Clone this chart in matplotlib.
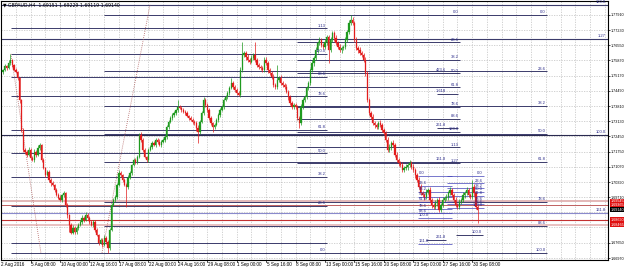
import matplotlib
matplotlib.use("Agg")
import matplotlib.pyplot as plt
import matplotlib.transforms as mtransforms

plt.rcParams['font.family'] = ['Liberation Sans Narrow', 'Liberation Sans', 'DejaVu Sans']

# ---------------- data ----------------
first_bar = 5          # bar index of first candle (0 = 2 Aug 2016 00:00, H4 bars)
open_first = 1.7535
closes = [
 1.7544,1.7562,1.7553,1.7575,1.7589,1.7566,1.7544,1.7535,1.7508,1.7409,
 1.7274,1.7184,1.7175,1.7161,1.7184,1.7148,1.7139,1.7175,1.7161,1.7193,
 1.7206,1.7139,1.7103,1.7071,1.7085,1.7049,1.7035,1.7026,1.7004,1.6981,
 1.6968,1.6959,1.6981,1.6990,1.6936,1.6891,1.6846,1.6811,1.6833,1.6815,
 1.6833,1.6846,1.6860,1.6878,1.6869,1.6891,1.6878,1.6860,1.6846,1.6860,
 1.6824,1.6802,1.6766,1.6779,1.6757,1.6788,1.6770,1.6743,1.6824,1.6936,
 1.6959,1.6972,1.7026,1.7080,1.7071,1.7049,1.7026,1.7017,1.7058,1.7080,
 1.7116,1.7139,1.7130,1.7152,1.7251,1.7229,1.7184,1.7152,1.7139,1.7184,
 1.7197,1.7215,1.7206,1.7229,1.7220,1.7206,1.7220,1.7229,1.7242,1.7287,
 1.7310,1.7328,1.7341,1.7350,1.7364,1.7377,1.7373,1.7364,1.7355,1.7350,
 1.7337,1.7328,1.7319,1.7310,1.7305,1.7283,1.7265,1.7310,1.7350,1.7409,
 1.7386,1.7364,1.7328,1.7305,1.7287,1.7296,1.7319,1.7341,1.7364,1.7377,
 1.7409,1.7422,1.7440,1.7463,1.7485,1.7467,1.7454,1.7440,1.7431,1.7544,
 1.7611,1.7620,1.7602,1.7589,1.7580,1.7598,1.7611,1.7589,1.7566,1.7557,
 1.7553,1.7544,1.7589,1.7575,1.7544,1.7530,1.7512,1.7476,1.7467,1.7499,
 1.7508,1.7485,1.7476,1.7467,1.7445,1.7422,1.7395,1.7377,1.7386,1.7377,
 1.7328,1.7305,1.7377,1.7409,1.7422,1.7463,1.7485,1.7544,1.7575,1.7598,
 1.7634,1.7666,1.7679,1.7657,1.7648,1.7670,1.7693,1.7634,1.7679,1.7710,
 1.7688,1.7666,1.7648,1.7634,1.7643,1.7648,1.7679,1.7715,1.7756,1.7769,
 1.7756,1.7679,1.7643,1.7634,1.7620,1.7611,1.7589,1.7530,1.7409,1.7350,
 1.7332,1.7305,1.7296,1.7287,1.7305,1.7296,1.7274,1.7260,1.7229,1.7184,
 1.7197,1.7215,1.7206,1.7161,1.7139,1.7125,1.7116,1.7094,1.7103,1.7107,
 1.7116,1.7125,1.7107,1.7094,1.7071,1.7049,1.7017,1.6990,1.6981,1.6972,
 1.6995,1.7004,1.6959,1.6936,1.6927,1.6945,1.6959,1.6914,1.6936,1.6959,
 1.6968,1.6972,1.6990,1.7004,1.6981,1.6959,1.6936,1.6927,1.6950,1.6959,
 1.6981,1.6990,1.7004,1.6981,1.6972,1.7017,1.6990,1.6927,1.6914,
]
wick_up_pips = [
 6,9,5,12,27,6,5,8,4,6,  5,8,10,7,12,6,9,11,6,14,
 10,6,8,5,9,7,6,8,5,7,   8,12,6,9,5,7,6,9,11,8,
 9,7,10,12,6,11,8,7,9,10, 6,8,5,9,7,11,6,8,7,10,
 8,10,7,12,9,6,8,7,11,9, 6,9,8,10,9,12,7,8,6,9,
 10,7,9,6,8,11,7,9,10,8, 7,9,8,10,6,32,9,7,8,10,
 8,6,10,7,9,8,11,9,10,13, 9,8,7,10,6,9,8,10,7,9,
 7,10,8,9,23,8,10,7,9,12, 59,10,8,12,9,11,8,59,10,9,
 10,9,11,15,8,10,9,12,8,67, 9,11,8,10,12,9,8,11,10,9,
 10,8,12,9,11,8,10,9,12,8, 11,9,12,10,8,11,9,10,12,9,
 9,12,10,11,9,10,12,9,11,22, 12,10,11,9,12,10,9,12,11,10,
 10,12,9,11,10,12,11,9,10,12, 11,10,12,9,11,10,9,12,10,11,
 9,12,10,11,9,10,12,11,9,10, 12,10,11,9,10,12,9,11,10,12,
 10,12,9,11,10,9,12,10,11,9, 12,10,11,9,10,32,11,10,9,
]
wick_dn_pips = [
 8,5,10,6,7,9,6,5,8,12,  10,12,8,9,7,11,6,10,9,7,
 9,11,7,10,6,8,12,7,9,6, 7,6,10,8,9,12,32,8,6,10,
 8,10,7,9,11,6,8,10,7,9, 9,7,10,8,12,6,9,22,8,6,
 7,9,11,6,8,10,7,90,8,6, 8,7,10,9,6,8,11,7,10,8,
 7,9,6,10,8,7,9,6,8,10,  9,6,8,7,10,8,6,9,7,8,
 7,9,6,10,8,12,50,8,6,9, 8,10,9,7,22,8,6,9,10,7,
 9,6,8,10,7,9,8,10,6,8,  10,8,12,9,11,7,10,8,9,11,
 9,11,8,10,12,9,11,8,10,9, 11,8,10,9,7,12,10,9,11,8,
 9,22,8,10,9,11,8,10,9,12, 10,12,9,11,10,9,12,59,10,11,
 12,9,11,10,12,9,10,11,9,10, 9,11,10,12,9,11,10,12,9,11,
 11,9,12,10,11,9,12,10,11,9, 10,12,9,11,10,12,10,9,12,10,
 12,10,11,9,12,10,11,9,10,12, 10,11,9,12,10,9,12,10,11,9,
 11,9,12,10,11,12,9,11,10,12, 9,12,10,11,9,10,12,11,59,
]

date_ticks = [20, 36, 52, 68, 84, 100, 116, 132, 148, 164, 180, 196, 212, 228, 244, 260]
date_labels = ["5 Aug 08:00", "10 Aug 00:00", "12 Aug 16:00", "17 Aug 08:00", "22 Aug 00:00",
               "24 Aug 16:00", "29 Aug 08:00", "1 Sep 00:00", "5 Sep 16:00", "8 Sep 08:00",
               "13 Sep 00:00", "15 Sep 16:00", "20 Sep 08:00", "23 Sep 00:00", "27 Sep 16:00",
               "30 Sep 08:00"]
price_ticks = [1.77910, 1.77230, 1.76550, 1.75870, 1.75170, 1.74490, 1.73810, 1.73130,
               1.72450, 1.71750, 1.71070, 1.70390, 1.69710, 1.67650, 1.66970]

retr_levels = [0, 23.6, 38.2, 50, 61.8, 78.6, 88.6, 100]
retr_labels = ["0.0", "23.6", "38.2", "50.0", "61.8", "78.6", "88.6", "100.0"]
# fib objects: (bar start, bar end, price at 0, price at 100, levels, labels, label side)
fib_A = (60.0, 300.7, 1.77915, 1.67205, retr_levels, retr_labels, "right")
fib_C = (9.3, 181.0, 1.67205, 1.76160, retr_levels + [113], retr_labels + ["1.13"], "right")
fib_E = (164.8, 253.4, 1.77915, 1.72650, retr_levels + [113, 127], retr_labels + ["1.13", "1.27"], "right")
fib_F = (240.9, 252.3, 1.68825, 1.70355, [161.8, 261.8, 361.8, 423.6], ["161.8", "261.8", "1.618", "423.6"], "mid")
fib_G = (230.5, 248.9, 1.70670, 1.68780, retr_levels + [161.8], retr_labels + ["161.8"], "left")
fib_H = (246.3, 266.5, 1.70670, 1.69230, retr_levels, retr_labels, "right")

full_lines = [(1.78365, "100.0", "#3b3b6b"), (1.76835, "1.27", "#3b3b6b"),
              (1.72515, "100.0", "#2a2a50"), (1.69005, "161.8", "#8a8acc")]
short_lines = [(9.3, 181.0, 1.67655, ""), (235.0, 246.0, 1.67790, "261.8"), (251.0, 266.0, 1.68015, "100.0")]
red_lines = [(1.69545, "#dba4a4", 1.1), (1.69365, "#c06060", 0.7), (1.68690, "#c43030", 0.8), (1.68465, "#e3b0b0", 1.1)]
red_boxes = [1.69545, 1.69365, 1.68690, 1.68465]
current_price = 1.69140
dotted_lines = [((9.3, 1.76160), (25.6, 1.67205)), ((58.8, 1.67205), (84.9, 1.78365))]
title = "GBPAUD,H4  1.69151 1.69229 1.69119 1.69140"

# ---------------- figure ----------------
W, H = 625, 269
fig = plt.figure(figsize=(W / 100, H / 100), dpi=100)
fig.patch.set_facecolor("white")
ax = fig.add_axes([1 / W, 9 / H, 607 / W, 259 / H])
ax.set_xlim(3.91, 333.8)
ax.set_ylim(1.66880, 1.78540)
for s in ax.spines.values():
    s.set_color("black")
    s.set_linewidth(0.8)

FS = 3.3
TFS = 2.7
ax.yaxis.tick_right()
ax.set_yticks(price_ticks)
ax.set_yticklabels([f"{p:.5f}" for p in price_ticks], fontsize=TFS, color="black")
ax.tick_params(axis="y", length=1.5, width=0.5, pad=0.6)
ax.set_xticks([])

# grid
grid_kw = dict(color="#b8b8b8", lw=0.45, ls=(0, (2, 2)), zorder=0)
for g in range(12, 334, 8):
    ax.axvline(g, **grid_kw)
for p in price_ticks + [1.69030, 1.68350]:
    ax.axhline(p, **grid_kw)

trans_x = mtransforms.blended_transform_factory(ax.transData, ax.transAxes)
for t, lab in zip(date_ticks, date_labels):
    ax.text(t + 0.3, -0.017, lab, transform=trans_x, fontsize=FS, ha="left", va="center", clip_on=False)
    ax.plot([t, t], [0, -0.008], transform=trans_x, color="black", lw=0.5, clip_on=False)
ax.text(3.9, -0.017, "2 Aug 2016", transform=trans_x, fontsize=FS, ha="left", va="center", clip_on=False)

# fib lines
fib_color = "#3b3b6b"
lab_color = "#2b2b8a"
LFS = 3.0
def draw_fib(fib, color=fib_color, lw=0.7):
    i0, i1, p0, p100, levels, labels, side = fib
    for lv, lb in zip(levels, labels):
        p = p0 + (p100 - p0) * lv / 100.0
        ax.hlines(p, i0, i1, color=color, lw=lw, zorder=2)
        if side == "right":
            ax.text(i1 - 0.8, p + 0.0002, lb, fontsize=LFS, color=lab_color, ha="right", va="bottom", zorder=5)
        elif side == "mid":
            ax.text(i0 + 5.0, p + 0.0002, lb, fontsize=LFS, color=lab_color, ha="right", va="bottom", zorder=5)
        else:
            ax.text(i0 + 0.5, p + 0.0002, lb, fontsize=LFS, color=lab_color, ha="left", va="bottom", zorder=5)

for p, lb, c in full_lines:
    ax.axhline(p, color=c, lw=0.8, zorder=2)
    ax.text(332.5, p + 0.0002, lb, fontsize=LFS, color=lab_color, ha="right", va="bottom", zorder=5)
for i0, i1, p, lb in short_lines:
    ax.hlines(p, i0, i1, color=fib_color, lw=0.7, zorder=2)
    if lb:
        ax.text(i1 - 0.5, p + 0.0002, lb, fontsize=LFS, color=lab_color, ha="right", va="bottom", zorder=5)

draw_fib(fib_C)
draw_fib(fib_A)
draw_fib(fib_E)
draw_fib(fib_F)
draw_fib(fib_G, color="#4040b8", lw=0.5)
draw_fib(fib_H, color="#4040b8", lw=0.5)

for p, c, lw in red_lines:
    ax.axhline(p, color=c, lw=lw, zorder=2)

for (a, b) in dotted_lines:
    ax.plot([a[0], b[0]], [a[1], b[1]], color="#b06060", lw=0.6, ls=(0, (1, 1.5)), zorder=2)

# candles
bull, bear = "#1f9a1f", "#e21c1c"
prev = open_first
for k, c in enumerate(closes):
    i = first_bar + k
    o = prev
    hi = max(o, c) + wick_up_pips[k] * 0.0001
    lo = min(o, c) - wick_dn_pips[k] * 0.0001
    col = bull if c >= o else bear
    ax.vlines(i, lo, hi, color=col, lw=0.5, zorder=3)
    body = max(abs(c - o), 0.00012)
    ax.bar(i, body, bottom=min(o, c), width=0.7, color=col, edgecolor=col, lw=0.2, zorder=4)
    prev = c

# right-hand price boxes
trans_y = mtransforms.blended_transform_factory(ax.transAxes, ax.transData)
for p in red_boxes:
    ax.text(1.004, p, f"{p:.5f}", transform=trans_y, fontsize=TFS, color="white", ha="left", va="center",
            clip_on=False, zorder=10, bbox=dict(boxstyle="square,pad=0.08", fc="#e01010", ec="none"))
ax.text(1.004, current_price, f"{current_price:.5f}", transform=trans_y, fontsize=TFS, color="white",
        ha="left", va="center", clip_on=False, zorder=11,
        bbox=dict(boxstyle="square,pad=0.08", fc="black", ec="none"))

# title
ax.text(0.004, 0.995, "\u25bc " + title, transform=ax.transAxes, fontsize=FS, color="black",
        ha="left", va="top", zorder=12, family=['Liberation Sans Narrow', 'DejaVu Sans'])

fig.savefig("out.png", dpi=100, facecolor="white")
